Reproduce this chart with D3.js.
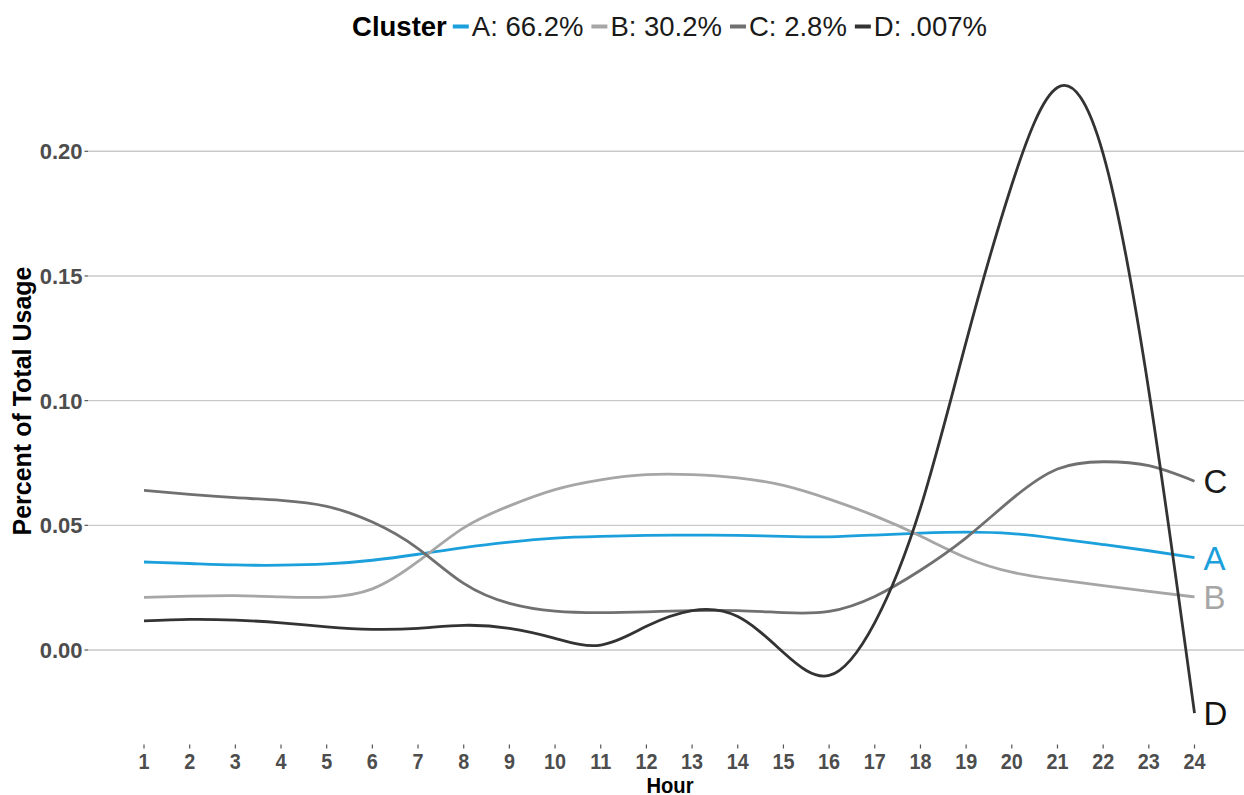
<!DOCTYPE html>
<html>
<head>
<meta charset="utf-8">
<script src="https://cdn.jsdelivr.net/npm/d3@7"></script>
<style>
  html, body { margin: 0; padding: 0; background: #ffffff; }
  svg { display: block; font-family: "Liberation Sans", Arial, sans-serif; }
</style>
</head>
<body>
<svg id="chart" width="1244" height="795"></svg>
<script>
// ---- data ----
const hours = [1,2,3,4,5,6,7,8,9,10,11,12,13,14,15,16,17,18,19,20,21,22,23,24];
const seriesNames = ["A", "B", "C", "D"];
const legendLabels = ["A: 66.2%", "B: 30.2%", "C: 2.8%", "D: .007%"];
const valuesA = [0.0353,0.0347,0.0341,0.0340,0.0345,0.0360,0.0384,0.0411,0.0433,0.0449,0.0456,0.0460,0.0461,0.0460,0.0456,0.0454,0.0461,0.0469,0.0473,0.0467,0.0447,0.0423,0.0398,0.0370];
const valuesB = [0.0211,0.0216,0.0218,0.0213,0.0212,0.0245,0.0355,0.0490,0.0578,0.0643,0.0682,0.0703,0.0703,0.0690,0.0660,0.0605,0.0538,0.0457,0.0370,0.0312,0.0282,0.0258,0.0235,0.0213];
const valuesC = [0.0640,0.0624,0.0611,0.0600,0.0576,0.0513,0.0407,0.0267,0.0187,0.0156,0.0150,0.0153,0.0158,0.0158,0.0150,0.0155,0.0215,0.0320,0.0450,0.0605,0.0726,0.0755,0.0739,0.0677];
const valuesD = [0.0117,0.0123,0.0120,0.0109,0.0093,0.0083,0.0087,0.0099,0.0087,0.0047,0.0020,0.0095,0.0158,0.0134,-0.0010,-0.0102,0.0110,0.0570,0.1236,0.1866,0.2256,0.1990,0.1040,-0.0253];
const yTicks = [0.00, 0.05, 0.10, 0.15, 0.20];
const legendTitle = "Cluster";
const xTitle = "Hour";
const yTitle = "Percent of Total Usage";

const colors = { A: "#1ba0dc", B: "#a6a6a6", C: "#707070", D: "#333333" };
const labelColors = { A: "#1ba0dc", B: "#a6a6a6", C: "#1a1a1a", D: "#111111" };

const series = [
  { name: "A", values: valuesA },
  { name: "B", values: valuesB },
  { name: "C", values: valuesC },
  { name: "D", values: valuesD }
];

// ---- scales ----
const svg = d3.select("#chart");
const x = d3.scaleLinear().domain([1, 24]).range([144, 1194.5]);
const y = d3.scaleLinear().domain([0, 0.2]).range([650, 151.3]);

// ---- gridlines + y axis ----
const gridLeft = 88, gridRight = 1244;
const yAxis = svg.append("g");
yAxis.selectAll("line.grid").data(yTicks).join("line")
  .attr("class", "grid")
  .attr("x1", gridLeft).attr("x2", gridRight)
  .attr("y1", d => y(d)).attr("y2", d => y(d))
  .attr("stroke", "#c9c9c9").attr("stroke-width", 1.4);
yAxis.selectAll("line.tick").data(yTicks).join("line")
  .attr("class", "tick")
  .attr("x1", 84.5).attr("x2", gridLeft)
  .attr("y1", d => y(d)).attr("y2", d => y(d))
  .attr("stroke", "#555").attr("stroke-width", 1.2);
yAxis.selectAll("text").data(yTicks).join("text")
  .attr("x", 82.5).attr("y", d => y(d))
  .attr("dy", "0.36em")
  .attr("text-anchor", "end")
  .attr("font-size", 22).attr("font-weight", "bold")
  .attr("fill", "#4d4d4d")
  .text(d => d3.format(".2f")(d));

// ---- x axis ----
const xAxis = svg.append("g");
xAxis.selectAll("line").data(hours).join("line")
  .attr("x1", d => x(d)).attr("x2", d => x(d))
  .attr("y1", 744.5).attr("y2", 748.5)
  .attr("stroke", "#555").attr("stroke-width", 1.2);
xAxis.selectAll("text").data(hours).join("text")
  .attr("transform", d => `translate(${x(d)},769) scale(0.9,1)`)
  .attr("text-anchor", "middle")
  .attr("font-size", 22).attr("font-weight", "bold")
  .attr("fill", "#4d4d4d")
  .text(d => d);

svg.append("text")
  .attr("transform", "translate(670,792.5) scale(0.92,1)")
  .attr("text-anchor", "middle")
  .attr("font-size", 22).attr("font-weight", "bold")
  .attr("fill", "#000")
  .text(xTitle);

svg.append("text")
  .attr("transform", "translate(31,401) rotate(-90)")
  .attr("text-anchor", "middle")
  .attr("font-size", 25).attr("font-weight", "bold")
  .attr("fill", "#000")
  .text(yTitle);

// ---- lines ----
const line = d3.line()
  .x((d, i) => x(hours[i]))
  .y(d => y(d))
  .curve(d3.curveNatural);

svg.append("g").selectAll("path").data(series).join("path")
  .attr("d", d => line(d.values))
  .attr("fill", "none")
  .attr("stroke", d => colors[d.name])
  .attr("stroke-width", 2.8)
  .attr("stroke-linejoin", "round")
  .attr("stroke-linecap", "butt");

// ---- end labels ----
svg.append("g").selectAll("text").data(series).join("text")
  .attr("x", x(24) + 9)
  .attr("y", d => y(d.values[d.values.length - 1]))
  .attr("dy", "0.36em")
  .attr("font-size", 33)
  .attr("fill", d => labelColors[d.name])
  .text(d => d.name);

// ---- legend ----
const legend = svg.append("g");
let cx = 0;
const ly = 36;
const t0 = legend.append("text")
  .attr("x", cx).attr("y", ly)
  .attr("font-size", 27.5).attr("font-weight", "bold").attr("fill", "#000")
  .text(legendTitle);
cx += t0.node().getComputedTextLength() + 6;
seriesNames.forEach((n, i) => {
  legend.append("line")
    .attr("x1", cx).attr("x2", cx + 16)
    .attr("y1", ly - 9.5).attr("y2", ly - 9.5)
    .attr("stroke", colors[n]).attr("stroke-width", 4);
  cx += 19;
  const t = legend.append("text")
    .attr("x", cx).attr("y", ly)
    .attr("font-size", 27.5).attr("fill", "#1a1a1a")
    .text(legendLabels[i]);
  cx += t.node().getComputedTextLength() + 8;
});
const legendWidth = cx - 8;
legend.attr("transform", `translate(${669.5 - legendWidth / 2},0)`);
</script>
</body>
</html>
